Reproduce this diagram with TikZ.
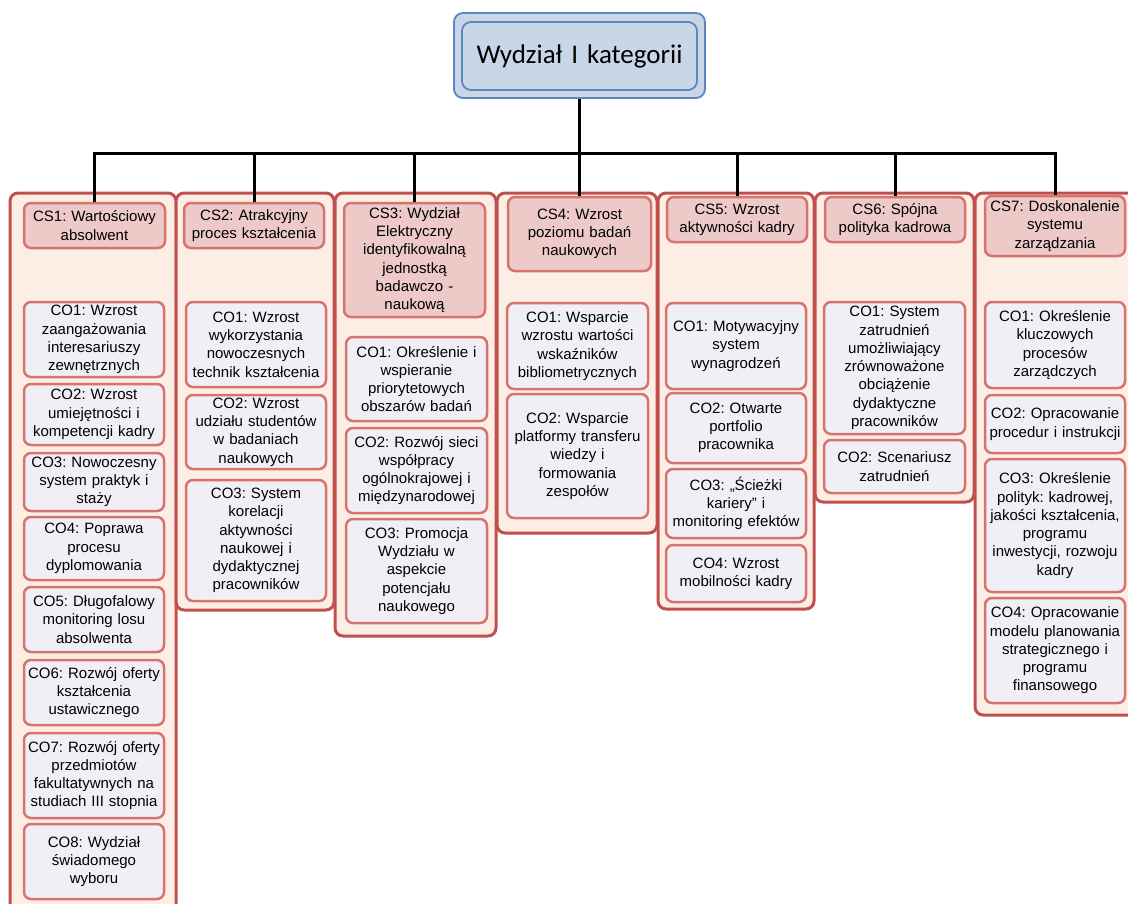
\documentclass[tikz,border=0pt]{standalone}
\usepackage{fontspec}
\setmainfont{Liberation Sans}
\newfontfamily\naglowek{Carlito}
\usepackage{tikz}
\usepackage{xcolor}
\definecolor{dark_red}{HTML}{C0504D}
\definecolor{light_red}{HTML}{D6736E}
\definecolor{peach_bg}{HTML}{FDEEE5}
\definecolor{rose_bg}{HTML}{EDC9C8}
\definecolor{lilac_bg}{HTML}{F0EFF5}
\definecolor{blue_line}{HTML}{5B86C0}
\definecolor{blue_bg}{HTML}{C8D6E7}
\frenchspacing

% Pole: nazwa, styl, x1, y1, x2, y2, tekst
\newcommand{\ramka}[7]{%
  \pgfmathsetmacro{\szer}{#5-#3}%
  \pgfmathsetmacro{\wys}{#6-#4}%
  \pgfmathsetmacro{\tekst}{#5-#3-4}%
  \node[#2, minimum width=\szer pt, minimum height=\wys pt, text width=\tekst pt]
    (#1) at ({(#3+#5)/2},{(#4+#6)/2}) {#7};}

\begin{document}
\begin{tikzpicture}[x=1pt,y=-1pt,
    kolumna/.style={draw=dark_red, line width=3pt, fill=peach_bg, rounded corners=8pt, inner sep=0pt},
    cel/.style={draw=light_red, line width=2.5pt, fill=rose_bg, rounded corners=7pt, inner sep=0pt,
      align=center, font=\fontsize{15}{18.3}\selectfont},
    zadanie/.style={cel, fill=lilac_bg},
    gora/.style={draw=blue_line, line width=1.8pt, fill=blue_bg, rounded corners=9pt, inner sep=0pt},
    gorawew/.style={gora, align=center, font=\naglowek\fontsize{27}{30}\selectfont},
    polaczenie/.style={black, line width=3pt}]

  \useasboundingbox (0,0) rectangle (1128,903);

  % Kolumny celów strategicznych
  \ramka{k1}{kolumna}{10}{193}{176}{915}{}
  \ramka{k2}{kolumna}{176}{193}{334}{610}{}
  \ramka{k3}{kolumna}{335}{193}{496}{636}{}
  \ramka{k4}{kolumna}{497}{193}{657}{533}{}
  \ramka{k5}{kolumna}{658}{193}{814}{609}{}
  \ramka{k6}{kolumna}{815}{193}{974}{502}{}
  \ramka{k7}{kolumna}{975}{193}{1136}{715}{}

  % Cele strategiczne
  \ramka{cs1}{cel}{24}{203}{165}{248}{CS1: Wartościowy\\absolwent}
  \ramka{cs2}{cel}{184}{203}{324}{248}{CS2: Atrakcyjny\\proces kształcenia}
  \ramka{cs3}{cel}{344}{203}{485}{317}{CS3: Wydział\\Elektryczny\\identyfikowalną\\jednostką\\badawczo -\\naukową}
  \ramka{cs4}{cel}{508}{197}{651}{271}{CS4: Wzrost\\poziomu badań\\naukowych}
  \ramka{cs5}{cel}{667}{197}{807}{242}{CS5: Wzrost\\aktywności kadry}
  \ramka{cs6}{cel}{825}{197}{965}{242}{CS6: Spójna\\polityka kadrowa}
  \ramka{cs7}{cel}{985}{196}{1125}{256}{CS7: Doskonalenie\\systemu\\zarządzania}

  % Cele operacyjne - kolumna 1
  \ramka{c1o1}{zadanie}{24}{302}{164}{377}{CO1: Wzrost\\zaangażowania\\interesariuszy\\zewnętrznych}
  \ramka{c1o2}{zadanie}{24}{384}{164}{445}{CO2: Wzrost\\umiejętności i\\kompetencji kadry}
  \ramka{c1o3}{zadanie}{24}{453}{164}{511}{CO3: Nowoczesny\\system praktyk i\\staży}
  \ramka{c1o4}{zadanie}{24}{517}{164}{580}{CO4: Poprawa\\procesu\\dyplomowania}
  \ramka{c1o5}{zadanie}{24}{587}{164}{652}{CO5: Długofalowy\\monitoring losu\\absolwenta}
  \ramka{c1o6}{zadanie}{24}{660}{164}{725}{CO6: Rozwój oferty\\kształcenia\\ustawicznego}
  \ramka{c1o7}{zadanie}{24}{733}{164}{818}{CO7: Rozwój oferty\\przedmiotów\\fakultatywnych na\\studiach III stopnia}
  \ramka{c1o8}{zadanie}{24}{824}{164}{899}{CO8: Wydział\\świadomego\\wyboru}

  % kolumna 2
  \ramka{c2o1}{zadanie}{186}{302}{326}{387}{CO1: Wzrost\\wykorzystania\\nowoczesnych\\technik kształcenia}
  \ramka{c2o2}{zadanie}{186}{395}{326}{469}{CO2: Wzrost\\udziału studentów\\w badaniach\\naukowych}
  \ramka{c2o3}{zadanie}{186}{480}{326}{601}{CO3: System\\korelacji\\aktywności\\naukowej i\\dydaktycznej\\pracowników}

  % kolumna 3
  \ramka{c3o1}{zadanie}{346}{337}{487}{421}{CO1: Określenie i\\wspieranie\\priorytetowych\\obszarów badań}
  \ramka{c3o2}{zadanie}{346}{428}{487}{513}{CO2: Rozwój sieci\\współpracy\\ogólnokrajowej i\\międzynarodowej}
  \ramka{c3o3}{zadanie}{346}{519}{487}{623}{CO3: Promocja\\Wydziału w\\aspekcie\\potencjału\\naukowego}

  % kolumna 4
  \ramka{c4o1}{zadanie}{507}{303}{648}{389}{CO1: Wsparcie\\wzrostu wartości\\wskaźników\\bibliometrycznych}
  \ramka{c4o2}{zadanie}{507}{394}{648}{518}{CO2: Wsparcie\\platformy transferu\\wiedzy i\\formowania\\zespołów}

  % kolumna 5
  \ramka{c5o1}{zadanie}{666}{303}{806}{389}{CO1: Motywacyjny\\system\\wynagrodzeń}
  \ramka{c5o2}{zadanie}{666}{393}{806}{463}{CO2: Otwarte\\portfolio\\pracownika}
  \ramka{c5o3}{zadanie}{666}{469}{806}{538}{CO3: „Ścieżki\\kariery” i\\monitoring efektów}
  \ramka{c5o4}{zadanie}{666}{545}{806}{602}{CO4: Wzrost\\mobilności kadry}

  % kolumna 6
  \ramka{c6o1}{zadanie}{824}{302}{965}{434}{CO1: System\\zatrudnień\\umożliwiający\\zrównoważone\\obciążenie\\dydaktyczne\\pracowników}
  \ramka{c6o2}{zadanie}{824}{440}{965}{493}{CO2: Scenariusz\\zatrudnień}

  % kolumna 7
  \ramka{c7o1}{zadanie}{985}{302}{1125}{388}{CO1: Określenie\\kluczowych\\procesów\\zarządczych}
  \ramka{c7o2}{zadanie}{985}{395}{1125}{453}{CO2: Opracowanie\\procedur i instrukcji}
  \ramka{c7o3}{zadanie}{985}{459}{1125}{592}{CO3: Określenie\\polityk: kadrowej,\\jakości kształcenia,\\programu\\inwestycji, rozwoju\\kadry}
  \ramka{c7o4}{zadanie}{985}{598}{1125}{703}{CO4: Opracowanie\\modelu planowania\\strategicznego i\\programu\\finansowego}

  % Wydział
  \ramka{wydz}{gora}{454}{13}{705}{98}{}
  \ramka{wydzwew}{gorawew}{462}{22}{697}{90}{Wydział I kategorii}

  % Połączenia
  \coordinate (szyna) at (580,153);
  \foreach \c in {cs1,cs2,cs3,cs4,cs5,cs6,cs7}
    \draw[polaczenie] (wydz.south) -- (wydz.south |- szyna) -| (\c.north);
\end{tikzpicture}
\end{document}
